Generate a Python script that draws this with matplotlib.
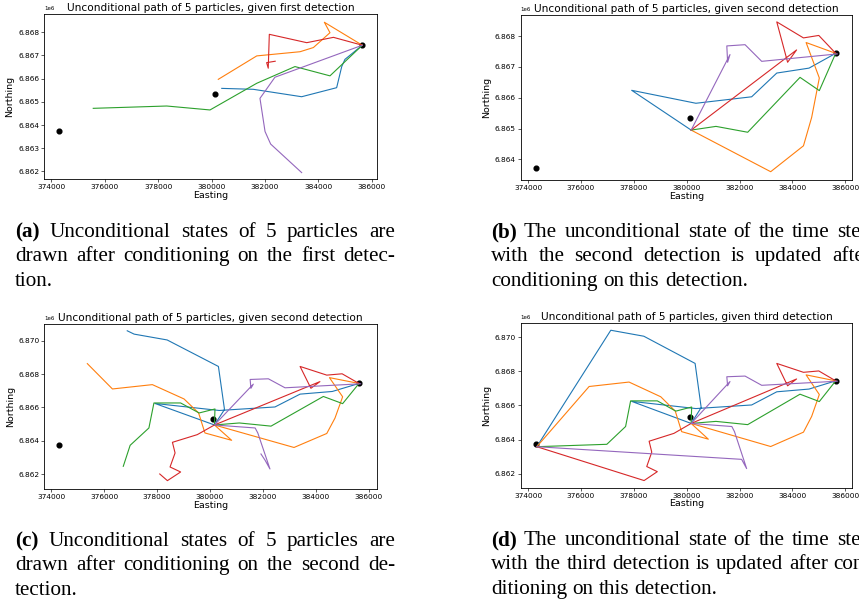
import matplotlib
matplotlib.use("Agg")
import matplotlib.pyplot as plt

W, H = 859, 605

# detection locations (easting, northing)
det_x = [374300, 380130, 385640]
det_y = [6863730, 6865330, 6867450]
third_x, third_y = 374330, 6863590

# (a) free paths after the first detection
a_blue_x = [385640, 384990, 384870, 384680, 383370, 381560, 380380]
a_blue_y = [6867440, 6866830, 6866520, 6865610, 6865220, 6865540, 6865580]
a_orange_x = [385640, 384220, 384430, 383810, 383310, 381690, 380250]
a_orange_y = [6867440, 6868430, 6867980, 6867340, 6867160, 6866980, 6865970]
a_green_x = [385640, 384430, 383120, 381690, 379940, 378320, 375570]
a_green_y = [6867440, 6866120, 6866520, 6865800, 6864650, 6864820, 6864720]
a_red_x = [385640, 384560, 383560, 382160, 382120, 382060, 382380]
a_red_y = [6867440, 6867780, 6867550, 6867910, 6866450, 6866690, 6866750]
a_purple_x = [385640, 382370, 381810, 382000, 382210, 383370]
a_purple_y = [6867440, 6866060, 6865150, 6863720, 6863180, 6861950]

# (b) paths conditioned on the second detection
b_blue_x = [385640, 384630, 383410, 382460, 380350, 377920, 380170]
b_blue_y = [6867440, 6866960, 6866800, 6866030, 6865820, 6866240, 6864950]
b_orange_x = [385640, 384520, 385020, 384730, 384420, 383180, 380170]
b_orange_y = [6867440, 6867790, 6866640, 6865360, 6864440, 6863600, 6864950]
b_green_x = [385640, 385020, 384290, 382310, 381110, 380170]
b_green_y = [6867440, 6866230, 6866660, 6864880, 6865070, 6864950]
b_red_x = [385640, 385000, 384420, 383410, 383820, 384160, 380170]
b_red_y = [6867440, 6868020, 6867940, 6868460, 6867150, 6867550, 6864950]
b_purple_x = [385700, 382840, 382210, 381520, 381550, 381640, 380170]
b_purple_y = [6867420, 6867180, 6867720, 6867680, 6867150, 6867400, 6864950]

# (c) continuation of each path past the second detection
c_blue_x = [380550, 380320, 378380, 377130, 376870]
c_blue_y = [6865880, 6868460, 6870050, 6870400, 6870600]
c_orange_x = [380820, 379810, 379570, 379020, 377820, 376310, 375360]
c_orange_y = [6864030, 6864470, 6865670, 6866510, 6867370, 6867110, 6868630]
c_green_x = [380190, 379590, 378890, 377880, 377690, 376980, 376720]
c_green_y = [6865910, 6865670, 6866270, 6866270, 6864770, 6863730, 6862470]
c_red_x = [379520, 378580, 378680, 378490, 378890, 378390, 378100]
c_red_y = [6864370, 6863910, 6863270, 6862430, 6862130, 6861610, 6862010]
c_purple_x = [381710, 381810, 382270, 382080, 381930]
c_purple_y = [6864770, 6864470, 6862310, 6862850, 6863210]

x_ticks = [374000, 376000, 378000, 380000, 382000, 384000, 386000]
y_ticks_a = [6862000, 6863000, 6864000, 6865000, 6866000, 6867000, 6868000]
y_ticks_b = [6864000, 6865000, 6866000, 6867000, 6868000]
y_ticks_cd = [6862000, 6864000, 6866000, 6868000, 6870000]

titles = [
    "Unconditional path of 5 particles, given first detection",
    "Unconditional path of 5 particles, given second detection",
    "Unconditional path of 5 particles, given second detection",
    "Unconditional path of 5 particles, given third detection",
]

captions = [
    ["(a) Unconditional states of 5 particles are",
     "drawn after conditioning on the first detec-",
     "tion."],
    ["(b) The unconditional state of the time step",
     "with the second detection is updated after",
     "conditioning on this detection."],
    ["(c) Unconditional states of 5 particles are",
     "drawn after conditioning on the second de-",
     "tection."],
    ["(d) The unconditional state of the time step",
     "with the third detection is updated after con-",
     "ditioning on this detection."],
]

fig = plt.figure(figsize=(W / 100, H / 100), dpi=100)

ax_a = fig.add_axes([44 / W, 1 - 179.3 / H, 332.7 / W, 165 / H])
ax_b = fig.add_axes([520.7 / W, 1 - 180 / H, 331.6 / W, 165 / H])
ax_c = fig.add_axes([44.3 / W, 1 - 489 / H, 332.4 / W, 165 / H])
ax_d = fig.add_axes([520.7 / W, 1 - 487.7 / H, 331.6 / W, 164.4 / H])

a_paths = [(a_blue_x, a_blue_y), (a_orange_x, a_orange_y), (a_green_x, a_green_y),
           (a_red_x, a_red_y), (a_purple_x, a_purple_y)]
b_paths = [(b_blue_x, b_blue_y), (b_orange_x, b_orange_y), (b_green_x, b_green_y),
           (b_red_x, b_red_y), (b_purple_x, b_purple_y)]
c_ext = [(c_blue_x, c_blue_y), (c_orange_x, c_orange_y), (c_green_x, c_green_y),
         (c_red_x, c_red_y), (c_purple_x, c_purple_y)]
c_paths = [(bx + cx, by + cy) for (bx, by), (cx, cy) in zip(b_paths, c_ext)]
# last step replaced by the third detection
d_paths = [(bx + cx[:-1] + [third_x], by + cy[:-1] + [third_y])
           for (bx, by), (cx, cy) in zip(b_paths, c_ext)]

panels = [
    (ax_a, a_paths, (373727, 386179), (6861661, 6868773), y_ticks_a),
    (ax_b, b_paths, (373721, 386268), (6863331, 6868683), y_ticks_b),
    (ax_c, c_paths, (373732, 386309), (6861109, 6871007), y_ticks_cd),
    (ax_d, d_paths, (373721, 386268), (6861192, 6870806), y_ticks_cd),
]

for (ax, paths, xl, yl, yt), title in zip(panels, titles):
    ax.plot(det_x, det_y, 'o', color='black', ms=3.4, zorder=1)
    for px, py in paths:
        ax.plot(px, py, lw=0.8)
    ax.set_xlim(*xl)
    ax.set_ylim(*yl)
    ax.set_xticks(x_ticks)
    ax.set_yticks(yt)
    ax.ticklabel_format(useOffset=False)
    ax.set_title(title, fontsize=7.6, pad=2.2)
    ax.set_xlabel("Easting", fontsize=6.8, labelpad=0.5)
    ax.set_ylabel("Northing", fontsize=6.8, labelpad=2.5)
    ax.tick_params(labelsize=5.3, length=1.9, width=0.45, pad=1.6)
    ax.yaxis.get_offset_text().set_fontsize(4)
    for s in ax.spines.values():
        s.set_linewidth(0.6)


def put_line(text, x0, x1, ypx, justify):
    r = fig.canvas.get_renderer()
    words = text.split()
    arts = []
    for i, w in enumerate(words):
        bold = i == 0 and w.startswith("(")
        arts.append(fig.text(0, 1 - ypx / H, w, fontsize=15.2,
                             family="Liberation Serif",
                             weight="bold" if bold else "normal",
                             va="baseline"))
    widths = [t.get_window_extent(r).width for t in arts]
    if justify:
        gap = (x1 - x0 - sum(widths)) / (len(words) - 1)
    else:
        gap = 5.3
    x = x0
    for t, w in zip(arts, widths):
        t.set_x(x / W)
        x += w + gap


cap_pos = [(15, 395, 237), (491, 871, 237), (15, 395, 546), (491, 871, 545)]
for lines, (x0, x1, y0) in zip(captions, cap_pos):
    for i, line in enumerate(lines):
        put_line(line, x0, x1, y0 + i * 24.4, i < len(lines) - 1)

fig.savefig("out.png", dpi=100)
